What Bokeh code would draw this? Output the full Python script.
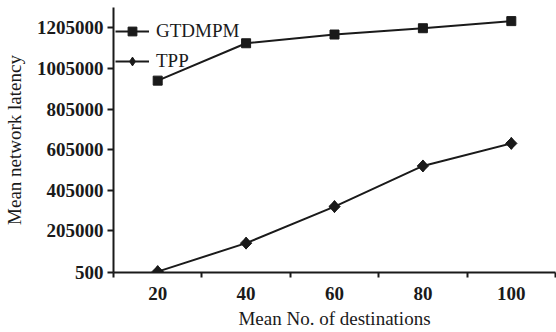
import math
from bokeh.plotting import figure
from bokeh.models import FixedTicker, Legend, LegendItem, ColumnDataSource
from bokeh.embed import file_html
from bokeh.resources import INLINE

destinations = [20, 40, 60, 80, 100]
gtdmpm = [945000, 1129000, 1172000, 1203000, 1238000]
tpp = [5000, 145000, 325000, 525000, 636000]
y_ticks = [500, 205000, 405000, 605000, 805000, 1005000, 1205000]

FONT = "Liberation Serif"
INK = "#1a1a1a"

p = figure(width=556, height=332, output_backend="svg", toolbar_location=None,
           x_range=(10, 110), y_range=(500, 1305000),
           min_border_left=110, min_border_right=1, min_border_top=7, min_border_bottom=60)
p.outline_line_color = None
p.grid.grid_line_color = None
p.background_fill_color = "white"

src_g = ColumnDataSource(dict(x=destinations, y=gtdmpm))
src_t = ColumnDataSource(dict(x=destinations, y=tpp))
lg = p.line("x", "y", source=src_g, line_color=INK, line_width=2)
mg = p.scatter("x", "y", source=src_g, marker="square", size=9, fill_color=INK, line_color=INK)
lt = p.line("x", "y", source=src_t, line_color=INK, line_width=2)
# narrow diamond used for the legend key; hidden under the rotated squares in the plot
md = p.scatter("x", "y", source=src_t, marker="diamond", size=12, fill_color=INK, line_color=INK)
mt = p.scatter("x", "y", source=src_t, marker="square", size=8, angle=math.pi / 4,
               fill_color=INK, line_color=INK)

p.xaxis.ticker = FixedTicker(ticks=destinations, minor_ticks=[10, 30, 50, 70, 90, 110])
p.xaxis.major_tick_out = 0
p.xaxis.major_tick_in = 0
p.xaxis.minor_tick_out = 5
p.xaxis.minor_tick_in = 0
p.yaxis.ticker = FixedTicker(ticks=y_ticks)
p.yaxis.formatter.use_scientific = False
p.yaxis.major_tick_out = 6
p.yaxis.major_tick_in = 0
for ax in (p.xaxis, p.yaxis):
    ax.axis_line_width = 2
    ax.axis_line_color = INK
    ax.major_tick_line_width = 2
    ax.major_tick_line_color = INK
    ax.minor_tick_line_width = 2
    ax.minor_tick_line_color = INK
    ax.major_label_text_font = FONT
    ax.major_label_text_font_size = "19px"
    ax.major_label_text_font_style = "bold"
    ax.major_label_text_color = INK
    ax.axis_label_text_font = FONT
    ax.axis_label_text_font_size = "19px"
    ax.axis_label_text_font_style = "normal"
    ax.axis_label_text_color = INK
p.yaxis.minor_tick_line_color = None
p.xaxis.axis_label = "Mean No. of destinations"
p.yaxis.axis_label = "Mean network latency"
p.xaxis.major_label_standoff = 9
p.xaxis.axis_label_standoff = 5
p.yaxis.major_label_standoff = 4
p.yaxis.axis_label_standoff = 9

legend = Legend(items=[LegendItem(label="GTDMPM", renderers=[lg, mg]),
                       LegendItem(label="TPP", renderers=[lt, md])],
                location=(2, 200), border_line_color=None, background_fill_alpha=0,
                label_text_font=FONT, label_text_font_size="19px", label_text_color=INK,
                glyph_width=34, glyph_height=22, label_height=22, spacing=8, padding=5,
                margin=0, label_standoff=7)
p.add_layout(legend)

open("out.html", "w").write(file_html(p, INLINE))
